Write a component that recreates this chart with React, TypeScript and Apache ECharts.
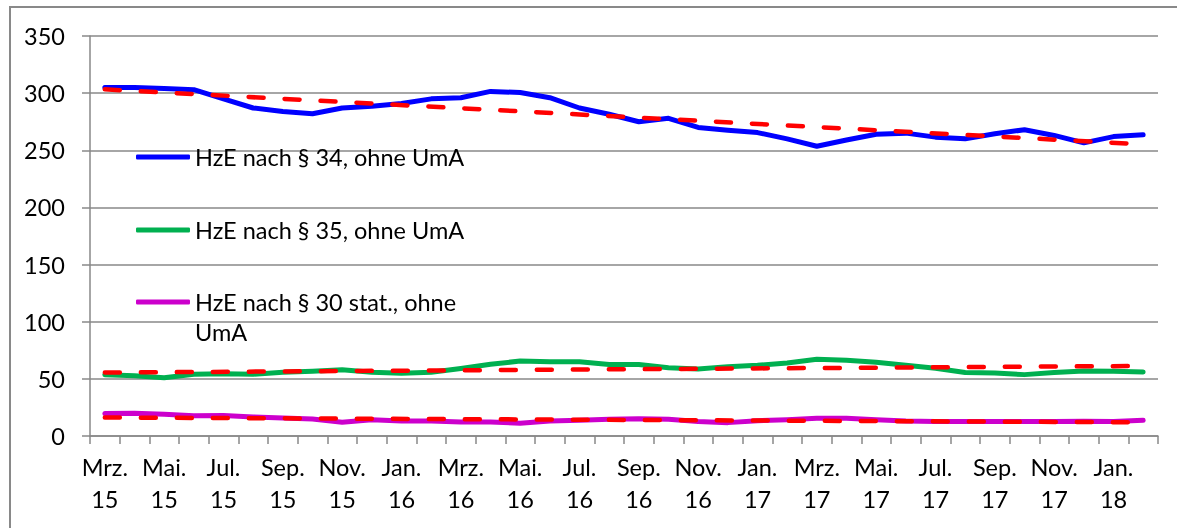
import React, { useEffect, useRef } from "react";
import * as echarts from "echarts";

const categories = [
  "Mrz. 15", "Apr. 15", "Mai. 15", "Jun. 15", "Jul. 15", "Aug. 15", "Sep. 15", "Okt. 15", "Nov. 15", "Dez. 15",
  "Jan. 16", "Feb. 16", "Mrz. 16", "Apr. 16", "Mai. 16", "Jun. 16", "Jul. 16", "Aug. 16", "Sep. 16", "Okt. 16", "Nov. 16", "Dez. 16",
  "Jan. 17", "Feb. 17", "Mrz. 17", "Apr. 17", "Mai. 17", "Jun. 17", "Jul. 17", "Aug. 17", "Sep. 17", "Okt. 17", "Nov. 17", "Dez. 17",
  "Jan. 18", "Feb. 18",
];

const seriesNames = ["HzE nach § 34, ohne UmA", "HzE nach § 35, ohne UmA", "HzE nach § 30 stat., ohne UmA"];

const hze34 = [305, 305, 304, 303, 295, 287, 284, 282, 287, 288.5, 291, 295, 296, 301.5, 300.5, 296, 287, 281.5, 275, 278, 270, 267.5, 265.5, 260, 253.5, 259, 264, 265, 261.5, 260, 264.5, 268, 263, 256.5, 262, 263.5];
const hze35 = [53.7, 52.8, 51, 54, 54.5, 54, 55.7, 56.6, 58, 55.7, 54.9, 55.7, 59, 62.7, 65.6, 65, 65, 62.5, 62.5, 59.8, 58.6, 60.7, 61.9, 63.9, 67.2, 66.2, 64.5, 61.9, 59.2, 55.5, 55.2, 53.7, 55.5, 56.9, 56.6, 56];
const hze30 = [19.6, 20, 19, 17.8, 18, 16.6, 15.8, 14.9, 12, 14.3, 13.1, 13.1, 12.3, 12.3, 11.1, 13.1, 13.7, 14.6, 15.2, 14.6, 12.6, 11.7, 13.4, 14.3, 15.6, 15.5, 14.3, 13.1, 12.6, 12.6, 12.6, 12.6, 12.6, 12.9, 12.6, 13.7];

// linear trend lines: value at first and last month
const trend34 = [303.3, 255.2];
const trend35 = [55.5, 61.3];
const trend30 = [16.2, 12.0];

const colors = ["#0000FF", "#00B050", "#CC00CC"];
const trendColor = "#FF0000";
const gray = "#898989";
const FONT = "Lato";

function trendData(ends: number[]) {
  return categories.map((_, i) => (i === 0 ? ends[0] : i === categories.length - 1 ? ends[1] : null));
}

export default function App() {
  const ref = useRef<HTMLDivElement>(null);
  useEffect(() => {
    if (!ref.current) return;
    const chart = echarts.init(ref.current, null, { renderer: "svg" });
    const textStyle = { fontFamily: FONT, fontSize: 23.5, color: "#000", lineHeight: 30 };
    const legendBase = {
      orient: "vertical",
      left: 136,
      padding: 0,
      itemWidth: 54,
      itemHeight: 5,
      icon: "roundRect",
      selectedMode: false,
      textStyle,
    };
    const lineSeries = (name: string, data: number[], color: string) => ({
      name,
      type: "line",
      data,
      symbol: "none",
      smooth: false,
      lineStyle: { color, width: 5, cap: "round", join: "round" },
      itemStyle: { color },
      z: 2,
    });
    const trendSeries = (ends: number[]) => ({
      type: "line",
      data: trendData(ends),
      connectNulls: true,
      symbol: "none",
      lineStyle: { color: trendColor, width: 4.5, type: [15, 21], cap: "round" },
      z: 3,
    });
    chart.setOption({
      animation: false,
      textStyle: { fontFamily: FONT },
      grid: { left: 90, right: 19, top: 36, bottom: 92, containLabel: false },
      graphic: [
        {
          type: "rect",
          shape: { x: 10, y: 7, width: 1300, height: 700 },
          style: { fill: "none", stroke: gray, lineWidth: 2 },
          silent: true,
          z: -10,
        },
      ],
      legend: [
        { ...legendBase, top: 142, data: [seriesNames[0]] },
        { ...legendBase, top: 215, data: [seriesNames[1]] },
        {
          ...legendBase,
          top: 257,
          data: [seriesNames[2]],
          formatter: () => " \nHzE nach § 30 stat., ohne\nUmA",
        },
      ],
      xAxis: {
        type: "category",
        data: categories,
        boundaryGap: true,
        axisLine: { show: true, lineStyle: { color: gray, width: 1.5 } },
        axisTick: { show: true, interval: 0, length: 8, lineStyle: { color: gray, width: 1.5 } },
        axisLabel: {
          interval: 1,
          margin: 15,
          fontFamily: FONT,
          fontSize: 23.5,
          color: "#000",
          lineHeight: 32,
          formatter: (v: string) => v.replace(" ", "\n"),
        },
        splitLine: { show: false },
      },
      yAxis: {
        type: "value",
        min: 0,
        max: 350,
        interval: 50,
        axisLine: { show: true, lineStyle: { color: gray, width: 1.5 } },
        axisTick: { show: true, length: 8, lineStyle: { color: gray, width: 1.5 } },
        axisLabel: { margin: 25, fontFamily: FONT, fontSize: 23.5, color: "#000" },
        splitLine: { show: true, lineStyle: { color: gray, width: 1.5 } },
      },
      series: [
        lineSeries(seriesNames[0], hze34, colors[0]),
        lineSeries(seriesNames[1], hze35, colors[1]),
        lineSeries(seriesNames[2], hze30, colors[2]),
        trendSeries(trend34),
        trendSeries(trend35),
        trendSeries(trend30),
      ],
    });
    return () => chart.dispose();
  }, []);
  return <div ref={ref} style={{ position: "fixed", left: 0, top: 0, width: 1177, height: 528 }} />;
}
